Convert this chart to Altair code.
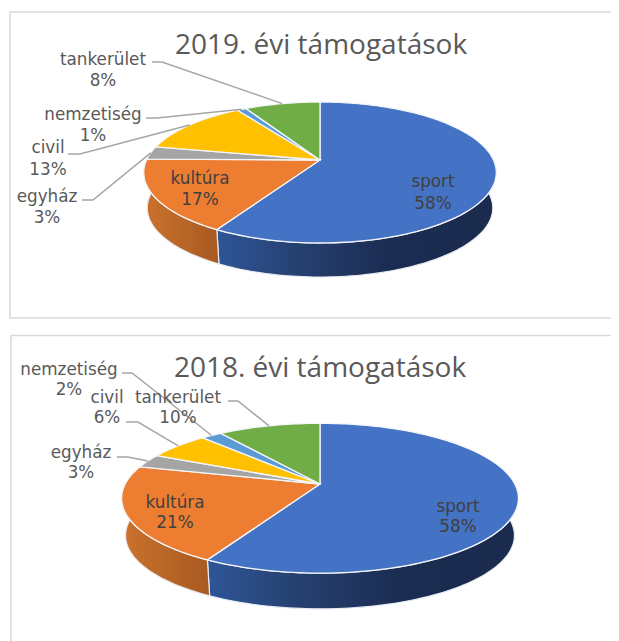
import math
import altair as alt

names = ["sport", "kultúra", "egyház", "civil", "nemzetiség", "tankerület"]
values_2019 = [58.4, 16.8, 3.0, 12.6, 1.0, 8.2]
values_2018 = [58.0, 21.0, 3.0, 6.0, 2.0, 10.0]
title_2019 = "2019. évi támogatások"
title_2018 = "2018. évi támogatások"

slice_colors = ["#4472c4", "#ed7d31", "#a5a5a5", "#ffc000", "#5b9bd5", "#70ad47"]
wall_stops = {
    "sport": [("#2f5597", 0.0), ("#25406f", 0.3), ("#1b2c52", 0.62), ("#1a2b4e", 1.0)],
    "kultúra": [("#cb722d", 0.0), ("#a85a22", 1.0)],
}

ORIGIN = 8
TITLE_FONT = "Open Sans"
LABEL_FONT = "DejaVu Sans"
GREY = "#595959"
DARK = "#404040"

# Page geometry of each panel: pie perspective parameters, label anchors, leader elbows.
panels = [
    dict(values=values_2019, title=title_2019, title_xy=(321, 46),
         cx=320, cy=160, A=173.5, B=68.3, k=0.177, shrink=0.98, depth=35.7,
         labels={"sport": (433, 182, 204), "kultúra": (200, 179, 200),
                 "egyház": (47, 197, 218), "civil": (48, 148, 170),
                 "nemzetiség": (93, 115, 136), "tankerület": (103, 60, 81)},
         elbows={"tankerület": [(152, 62), (162, 62)], "nemzetiség": [(146, 118), (157, 118)],
                 "civil": [(68, 154), (80, 154)], "egyház": [(82, 200), (93, 200)]}),
    dict(values=values_2018, title=title_2018, title_xy=(320, 369),
         cx=320, cy=484, A=194.8, B=72.2, k=0.19, shrink=0.98, depth=37.5,
         labels={"sport": (458, 507, 527), "kultúra": (175, 503, 523),
                 "egyház": (81, 453, 473), "civil": (107, 398, 418),
                 "nemzetiség": (69, 370, 390), "tankerület": (178, 398, 418)},
         elbows={"tankerület": [(228, 401), (238, 401)], "nemzetiség": [(122, 373), (132, 373)],
                 "civil": [(126, 422), (138, 422)], "egyház": [(117, 457), (128, 457)]}),
]


def project(p, theta_deg, lower=False):
    t = math.radians(theta_deg)
    u, v = math.sin(t), math.cos(t)
    w = 1 + p["k"] * v
    s = p["shrink"] if lower else 1.0
    d = p["depth"] if lower else 0.0
    return (p["cx"] + s * p["A"] * u / w - ORIGIN,
            p["cy"] + d - s * p["B"] * v / w - ORIGIN)


def arc(p, a, b, lower=False):
    n = max(2, int(abs(b - a) / 1.5) + 1)
    return [project(p, a + (b - a) * i / n, lower) for i in range(n + 1)]


def feature(name, ring):
    ring = [list(c) for c in ring] + [list(ring[0])]
    return {"type": "Feature", "properties": {"name": name},
            "geometry": {"type": "Polygon", "coordinates": [ring]}}


identity = dict(type="identity", scale=1, translate=[0, 0])
X = alt.X("x:Q", scale=None, axis=None)
Y = alt.Y("y:Q", scale=None, axis=None)
layers = []

# Frames
frames = [dict(x=10, x2=640, y=12, y2=318), dict(x=11, x2=640, y=335.5, y2=680)]
layers.append(
    alt.Chart(alt.Data(values=[{k: v - ORIGIN for k, v in f.items()} for f in frames]))
    .mark_rect(fill="white", stroke="#d9d9d9", strokeWidth=1.6, clip=True)
    .encode(x=X, x2="x2:Q", y=Y, y2="y2:Q")
)

tops, leaders, texts = [], [], []
for pi, p in enumerate(panels):
    total = sum(p["values"])
    angle = 0.0
    for name, val in zip(names, p["values"]):
        a, b = angle, angle + 360 * val / total
        angle = b
        tops.append(feature(name, [(p["cx"] - ORIGIN, p["cy"] - ORIGIN)] + arc(p, a, b)))

        lo, hi = max(a, 80), min(b, 280)
        if name in wall_stops and lo < hi:
            ring = arc(p, lo, hi) + arc(p, lo, hi, True)[::-1]
            layers.append(
                alt.Chart(alt.Data(values=[feature(name, ring)]))
                .mark_geoshape(
                    fill=alt.Gradient(
                        gradient="linear", x1=0, x2=1, y1=0, y2=0,
                        stops=[alt.GradientStop(color=c, offset=o) for c, o in wall_stops[name]],
                    ),
                    stroke="#e8ecf2", strokeWidth=1.2,
                )
                .project(**identity)
            )

        lx, y1, y2 = p["labels"][name]
        inside = name in ("sport", "kultúra")
        color = DARK if inside else GREY
        pct = f"{round(100 * val / total)}%"
        texts.append(dict(x=lx - ORIGIN, y=y1 - ORIGIN, t=name, c=color, s=16.8, f=LABEL_FONT))
        texts.append(dict(x=lx - ORIGIN, y=y2 - ORIGIN, t=pct, c=color, s=16.8, f=LABEL_FONT))
        if name in p["elbows"]:
            mid = project(p, (a + b) / 2)
            pts = [(ex - ORIGIN, ey - ORIGIN) for ex, ey in p["elbows"][name]] + [mid]
            for i, (x, y) in enumerate(pts):
                leaders.append(dict(x=x, y=y, i=i, key=f"{pi}-{name}"))
    tx, ty = p["title_xy"]
    texts.append(dict(x=tx - ORIGIN, y=ty - ORIGIN, t=p["title"], c=GREY, s=28, f=TITLE_FONT))

layers.append(
    alt.Chart(alt.Data(values=tops))
    .mark_geoshape(stroke="#f4f6fa", strokeWidth=1.3)
    .encode(color=alt.Color("properties.name:N", legend=None,
                            scale=alt.Scale(domain=names, range=slice_colors)))
    .project(**identity)
)
layers.append(
    alt.Chart(alt.Data(values=leaders))
    .mark_line(color="#a6a6a6", strokeWidth=1.5)
    .encode(x=X, y=Y, detail="key:N", order="i:Q")
)
for font in (TITLE_FONT, LABEL_FONT):
    layers.append(
        alt.Chart(alt.Data(values=[t for t in texts if t["f"] == font]))
        .mark_text(font=font, align="center", baseline="middle")
        .encode(x=X, y=Y, text="t:N",
                color=alt.Color("c:N", scale=None, legend=None),
                size=alt.Size("s:Q", scale=None, legend=None))
    )

chart = (
    alt.layer(*layers)
    .properties(width=603, height=633, padding=0, background="white",
                autosize=alt.AutoSizeParams(type="none"))
    .configure_view(stroke=None)
)
chart.save("out.html", embed_options={"renderer": "svg", "actions": False})
